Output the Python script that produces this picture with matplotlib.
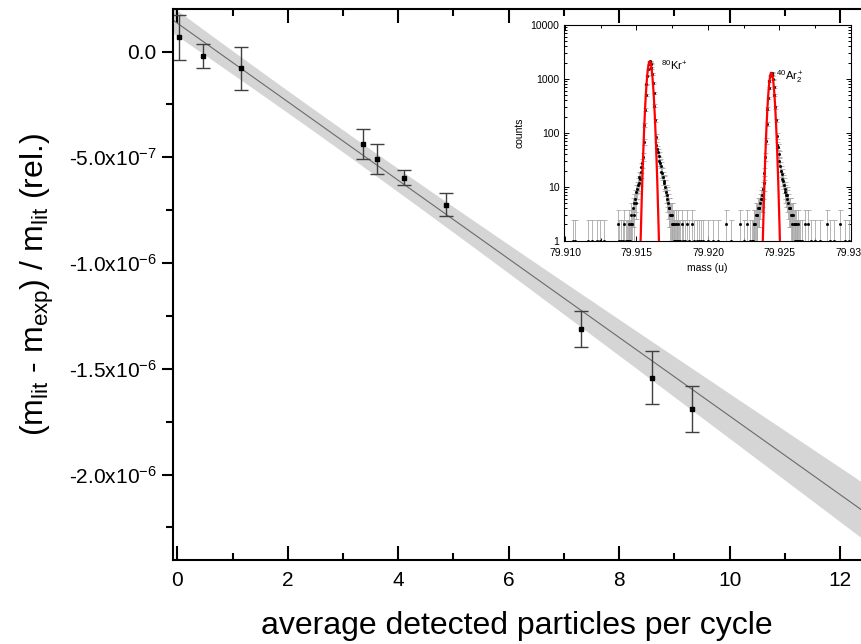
import numpy as np
import matplotlib
matplotlib.use("Agg")
import matplotlib.pyplot as plt
from matplotlib.ticker import FuncFormatter, MultipleLocator, LogLocator, NullFormatter, FormatStrFormatter

plt.rcParams['font.family'] = ['Liberation Sans', 'DejaVu Sans']
plt.rcParams['mathtext.default'] = 'regular'

# main panel: relative mass deviation vs. count rate
particles = [0.035, 0.458, 1.152, 3.357, 3.616, 4.10, 4.866, 7.306, 8.592, 9.328]
mass_dev = [6.8e-8, -2.0e-8, -8.0e-8, -4.37e-7, -5.08e-7, -5.97e-7, -7.24e-7,
            -1.312e-6, -1.542e-6, -1.692e-6]
mass_dev_err = [1.06e-7, 5.7e-8, 1.0e-7, 7.3e-8, 7.2e-8, 3.5e-8, 5.4e-8,
                8.4e-8, 1.25e-7, 1.09e-7]

# linear fit and its confidence band
fit_intercept = 1.34e-7
fit_slope = -1.857e-7
band_min = 5.2e-8
band_growth = 1.234e-8
band_center = 2.5

# inset: mass spectrum (counts per bin)
bin_width = 0.00005
kr_start = 79.91440
kr_counts = [1, 1, 2, 1, 2, 3, 2, 4, 3, 5,
             6, 5, 8, 9, 11, 12, 15, 14, 19, 23,
             28, 36, 68, 140, 270, 500, 790, 1150, 1520, 1880,
             2080, 2110, 1930, 1590, 1240, 850, 560, 320, 170, 85,
             60, 50, 44, 38, 30, 28, 24, 19, 18, 15,
             13, 12, 10, 8, 7, 6, 5, 4, 4, 3,
             3, 2, 3, 2, 1, 2, 1, 2, 1, 1, 2, 1]
ar_start = 79.92320
ar_counts = [2, 2, 2, 3, 3, 3, 4, 4, 4, 5,
             6, 6, 7, 9, 12, 18, 36, 72, 145, 280,
             440, 690, 920, 1150, 1290, 1300, 1170, 980, 720, 500,
             300, 170, 88, 60, 55, 40, 30, 24, 20, 17,
             14, 13, 11, 9, 8, 7, 7, 6, 5, 4,
             4, 4, 3, 3, 2, 3, 2, 2, 1, 2, 1, 1, 2, 1, 1]
bg_mass = [79.91054, 79.91072, 79.91163, 79.91186, 79.91222, 79.91245, 79.91275,
           79.91368, 79.91380, 79.91395, 79.91405, 79.91415, 79.91425, 79.91432,
           79.91805, 79.91815, 79.91825, 79.91840, 79.91855, 79.91870, 79.91885,
           79.91900, 79.91920, 79.91935, 79.91950, 79.91967, 79.92000, 79.92033,
           79.92072, 79.92126, 79.92160, 79.92224, 79.92250, 79.92270, 79.92294,
           79.92306, 79.92312,
           79.92660, 79.92680, 79.92701, 79.92720, 79.92750, 79.92783, 79.92830,
           79.92853, 79.92880, 79.92923, 79.92960, 79.92988]
bg_counts = [1, 1, 1, 1, 1, 1, 1,
             2, 1, 1, 1, 2, 1, 1,
             1, 2, 1, 1, 2, 1, 2,
             1, 1, 1, 1, 1, 1, 1,
             1, 2, 1, 2, 1, 2, 1,
             1, 1,
             1, 2, 2, 1, 1, 1, 2,
             1, 1, 2, 1, 1]

# gaussian fits of the two peaks
kr_fit = (2100, 79.91593, 0.000164)
ar_fit = (1300, 79.92443, 0.000158)


def sci_label(v, pos):
    if abs(v) < 1e-12:
        return '0.0'
    e = int(np.floor(np.log10(abs(v)) + 1e-9))
    return f'{v / 10**e:.1f}x10$^{{{e}}}$'


fig = plt.figure(figsize=(8.61, 6.44), dpi=100)
ax = fig.add_axes([0.2006, 0.1304, 0.7994, 0.8552])

xs = np.linspace(-0.3, 12.6, 300)
line = fit_intercept + fit_slope * xs
hw = np.sqrt(band_min**2 + (band_growth * (xs - band_center))**2)
ax.fill_between(xs, line - hw, line + hw, color='#d5d5d5', lw=0)
ax.plot(xs, line, color='#6a6a6a', lw=0.8)
ax.errorbar(particles, mass_dev, yerr=mass_dev_err, fmt='s', ms=3.5,
            color='black', ecolor='#404040', elinewidth=1, capsize=5, capthick=1)

ax.set_xlim(-0.085, 12.38)
ax.set_ylim(-2.404e-6, 2.0e-7)
ax.spines['right'].set_visible(False)
for s in ['top', 'left', 'bottom']:
    ax.spines[s].set_linewidth(1.5)
ax.xaxis.set_major_locator(MultipleLocator(2))
ax.xaxis.set_minor_locator(MultipleLocator(1))
ax.yaxis.set_major_locator(MultipleLocator(5e-7))
ax.yaxis.set_minor_locator(MultipleLocator(2.5e-7))
ax.yaxis.set_major_formatter(FuncFormatter(sci_label))
ax.tick_params(axis='x', which='both', direction='in', top=True, width=1.5, labelsize=15, pad=8)
ax.tick_params(axis='x', which='major', length=10)
ax.tick_params(axis='x', which='minor', length=5)
ax.tick_params(axis='y', which='both', direction='out', width=1.5, labelsize=15)
ax.tick_params(axis='y', which='major', length=8)
ax.tick_params(axis='y', which='minor', length=5)
ax.set_xlabel('average detected particles per cycle', fontsize=23, labelpad=15)
ax.set_ylabel('(m$_{lit}$ - m$_{exp}$) / m$_{lit}$ (rel.)', fontsize=23, labelpad=9)

# inset spectrum
ins = fig.add_axes([0.6545, 0.6262, 0.3339, 0.335])
ins.set_yscale('log')
kr_mass = kr_start + bin_width * np.arange(len(kr_counts))
ar_mass = ar_start + bin_width * np.arange(len(ar_counts))
m_all = np.concatenate([bg_mass, kr_mass, ar_mass])
c_all = np.concatenate([bg_counts, kr_counts, ar_counts]).astype(float)
err = np.sqrt(c_all + 1)
ins.errorbar(m_all, c_all, yerr=err, fmt='s', ms=1.0, color='black',
             ecolor='#a8a8a8', elinewidth=0.6, capsize=1.8, capthick=0.6, zorder=2)
mm = np.linspace(79.910, 79.930, 6000)
for amp, cen, sig in (kr_fit, ar_fit):
    g = amp * np.exp(-(mm - cen)**2 / (2 * sig**2))
    g = np.where(g > 0.5, g, np.nan)
    ins.plot(mm, g, color='red', lw=1.6, zorder=3)
ins.text(79.91671, 1470, '$^{80}$Kr$^{+}$', fontsize=8)
ins.text(79.92479, 960, '$^{40}$Ar$_2^+$', fontsize=8)

ins.set_xlim(79.9099, 79.9300)
ins.set_ylim(1, 10000)
ins.xaxis.set_major_locator(MultipleLocator(0.005))
ins.xaxis.set_minor_locator(MultipleLocator(0.0025))
ins.xaxis.set_major_formatter(FormatStrFormatter('%.3f'))
ins.yaxis.set_major_locator(LogLocator(base=10))
ins.yaxis.set_minor_locator(LogLocator(base=10, subs=np.arange(2, 10)))
ins.yaxis.set_major_formatter(FuncFormatter(lambda v, p: f'{v:.0f}'))
ins.yaxis.set_minor_formatter(NullFormatter())
ins.tick_params(which='both', direction='in', top=True, right=True, labelsize=7.5, width=0.7)
ins.tick_params(axis='x', pad=5)
ins.tick_params(axis='y', pad=3)
ins.tick_params(which='major', length=3.5)
ins.tick_params(which='minor', length=2)
for s in ins.spines.values():
    s.set_linewidth(0.8)
ins.set_xlabel('mass (u)', fontsize=7.5, labelpad=4)
ins.set_ylabel('counts', fontsize=7.5, labelpad=4)

fig.savefig('out.png', dpi=100)
